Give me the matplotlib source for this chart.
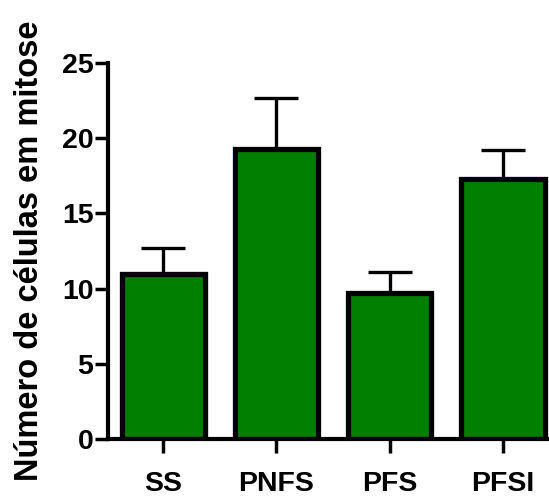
import matplotlib
matplotlib.use("Agg")
import matplotlib.pyplot as plt
import numpy as np

categories = ["SS", "PNFS", "PFS", "PFSI"]
means = [11.0, 19.3, 9.7, 17.3]
err_upper = [1.7, 3.4, 1.4, 1.9]
yticks = [0, 5, 10, 15, 20, 25]

plt.rcParams['font.family'] = ['Liberation Sans', 'DejaVu Sans']

W, H = 549, 501
fig = plt.figure(figsize=(W / 100, H / 100), dpi=100)
ax = fig.add_axes([108 / W, 62 / H, (W - 108) / W + 0.002, (439 - 63) / H])

x = np.arange(len(categories))
ax.bar(x, means, width=0.735, color='#007F00', edgecolor='black', linewidth=3.8, zorder=2)
ax.errorbar(x, means, yerr=[np.zeros(len(means)), err_upper], fmt='none',
            ecolor='black', elinewidth=2.4, capsize=15.5, capthick=2.4, zorder=1)

ax.set_xlim(-0.487, (W - 163) / 113)
ax.set_ylim(0, 25)
ax.set_yticks(yticks)
ax.set_xticks(x)
ax.set_xticklabels(categories)
ax.set_yticklabels([str(t) for t in yticks])

for s in ['top', 'right']:
    ax.spines[s].set_visible(False)
for s in ['left', 'bottom']:
    ax.spines[s].set_linewidth(3.0)

ax.tick_params(axis='y', length=9.5, width=2.5, labelsize=20.5, pad=1)
ax.tick_params(axis='x', length=10, width=2.5, labelsize=20.5, pad=13)
for lab in ax.get_xticklabels() + ax.get_yticklabels():
    lab.set_fontweight('bold')

ax.set_ylabel("Número de células em mitose", fontsize=23.5, fontweight='bold')
ax.yaxis.set_label_coords(-(108 - 30) / (W - 108), (250 - 62) / 376)
ax.yaxis.label.set_va('center')

fig.savefig("out.png", dpi=100)
